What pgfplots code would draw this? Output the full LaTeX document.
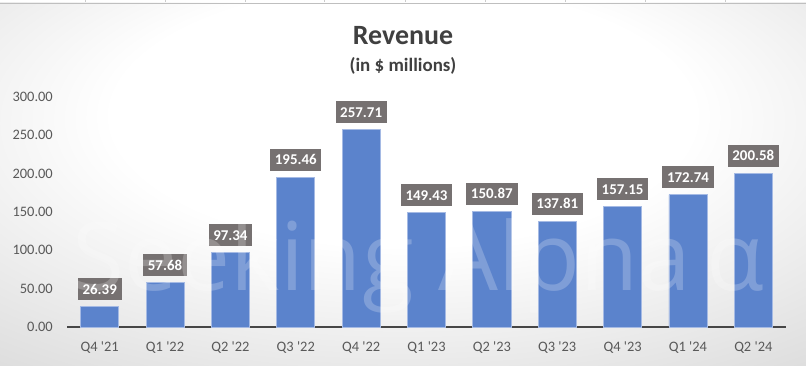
\documentclass[border=0pt]{standalone}
\usepackage{pgfplots}
\pgfplotsset{compat=1.18}
\usepackage{fontspec}
\setmainfont{Carlito}
\newfontfamily\wmfont{Open Sans}
\definecolor{barblue}{RGB}{91,131,204}
\definecolor{baredge}{RGB}{165,186,228}
\definecolor{lblgray}{RGB}{118,113,113}
\definecolor{tickgray}{RGB}{89,89,89}
\definecolor{titlegray}{RGB}{64,64,64}
\definecolor{axisgray}{RGB}{70,70,70}
\pgfdeclareradialshading{bgshade}{\pgfpoint{0bp}{12bp}}{color(0bp)=(white); color(18bp)=(white); color(52bp)=(white!80!black); color(85bp)=(white!74!black)}
\begin{document}
\begin{tikzpicture}[x=1bp,y=1bp]
\useasboundingbox (0,0) rectangle (806,365);
\fill[white] (0,362) rectangle (806,365);
\foreach \x in {85,165,245,324,405,485,565,645,725} \draw[gray!40, line width=0.5bp] (\x,362) -- (\x,365);
\shade[shading=bgshade] (0,0) rectangle (806,362);
\draw[gray!50, line width=0.75bp] (0,362) -- (806,362);
\node[anchor=base, font=\bfseries\fontsize{28}{30}\selectfont, text=titlegray, inner sep=0] at (403,321) {Revenue};
\node[anchor=base, font=\bfseries\fontsize{19}{21}\selectfont, text=titlegray, inner sep=0] at (403,294) {(in \$ millions)};
\begin{axis}[
  at={(67bp,38bp)}, anchor=south west,
  width=719bp, height=230bp, scale only axis,
  xmin=-0.5, xmax=10.5, ymin=0, ymax=300,
  clip=false,
  axis x line*=bottom, axis y line*=left,
  y axis line style={draw=none},
  x axis line style={draw=axisgray, line width=1.5bp},
  major tick length=0pt,
  ytick={0,50,100,150,200,250,300},
  xtick={0,1,2,3,4,5,6,7,8,9,10},
  xticklabels={Q4 \textquotesingle21, Q1 \textquotesingle22, Q2 \textquotesingle22, Q3 \textquotesingle22, Q4 \textquotesingle22, Q1 \textquotesingle23, Q2 \textquotesingle23, Q3 \textquotesingle23, Q4 \textquotesingle23, Q1 \textquotesingle24, Q2 \textquotesingle24},
  yticklabel style={text=tickgray, font=\fontsize{14.5}{16}\selectfont, inner sep=0pt, anchor=east, xshift=-14bp},
  xticklabel style={text=tickgray, font=\fontsize{14.5}{16}\selectfont, inner sep=0pt, anchor=north, yshift=-14.5bp},
  /pgf/number format/fixed,
  /pgf/number format/fixed zerofill,
  /pgf/number format/precision=2,
  /pgf/number format/assume math mode=true,
  ybar, bar width=38bp,
  nodes near coords,
  every node near coord/.append style={fill=lblgray, text=white, font=\bfseries\fontsize{15}{16}\selectfont, inner xsep=4.7bp, inner ysep=6bp, text height=10bp, text depth=0bp, anchor=south, yshift=6bp},
]
\addplot[fill=barblue, draw=baredge, line width=0.75bp] coordinates {
(0,26.39) (1,57.68) (2,97.34) (3,195.46) (4,257.71) (5,149.43)
(6,150.87) (7,137.81) (8,157.15) (9,172.74) (10,200.58)};
\end{axis}
\begin{scope}
\clip (0,0) rectangle (806,362);
\node[anchor=base west, text=white, text opacity=0.22, font=\wmfont\fontsize{95}{95}\selectfont, inner sep=0] at (72,75) {Seeking Alpha\,α};
\end{scope}
\end{tikzpicture}
\end{document}
